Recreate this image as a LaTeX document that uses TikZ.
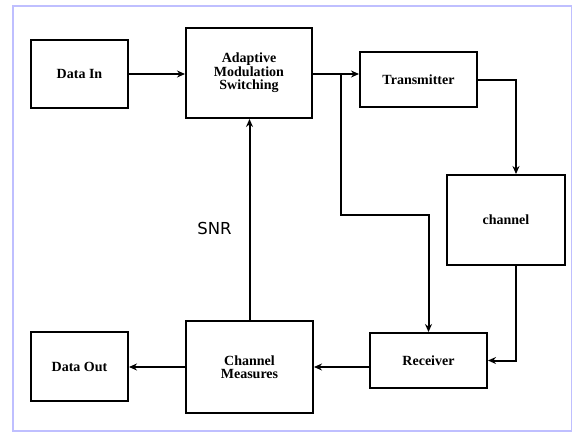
\documentclass[tikz,border=0pt]{standalone}
\usepackage{fontspec}
\setmainfont{Liberation Serif}
\newfontfamily\snrfont{DejaVu Sans}
\usetikzlibrary{arrows.meta}

\begin{document}
\begin{tikzpicture}[x=1pt, y=-1pt,
		blk/.style={draw, line width=2pt, align=center, inner sep=0pt,
			font=\bfseries\fontsize{14}{13.5}\selectfont},
		conn/.style={line width=2pt, -{Stealth[length=8pt, width=7pt]}}]
				\useasboundingbox (0,0) rectangle (572,432);
				\draw[blue!25, line width=2pt] (13,6) rectangle (572,431);
				
				\node[blk, minimum width=97, minimum height=68] (datain) at (79.5,74) {Data In};
				\node[blk, minimum width=126, minimum height=90] (ams) at (249,73) {Adaptive\\Modulation\\Switching};
				\node[blk, minimum width=117, minimum height=55] (tx) at (418.5,79.5) {Transmitter};
				\node[blk, minimum width=118, minimum height=90] (chan) at (506,220) {channel};
				\node[blk, minimum width=117, minimum height=55] (rx) at (428.5,360.5) {Receiver};
				\node[blk, minimum width=127, minimum height=92] (cm) at (249.5,367) {Channel\\Measures};
				\node[blk, minimum width=97, minimum height=69] (dataout) at (79.5,366.5) {Data Out};
				\node[font=\snrfont\fontsize{16.5}{19}\selectfont] (snr) at (214.5,228.5) {SNR};
				
				\coordinate (split) at (341,74);
				\coordinate (bend) at (341,215);
				
				\draw[conn] (datain.east) -- (datain.east -| ams.west);
				\draw[conn] (ams.east |- split) -- (tx.west |- split);
				\draw[conn] (split) -- (bend) -| (rx.north);
				\draw[conn] (tx.east) -| ([xshift=10pt]chan.north);
				\draw[conn] ([xshift=10pt]chan.south) |- (rx.east);
				\draw[conn] (rx.west |- cm.east) -- (cm.east);
				\draw[conn] (cm.west) -- (cm.west -| dataout.east);
				\draw[conn] (cm.north) -- (cm.north |- ams.south);
			\end{tikzpicture}
\end{document}
